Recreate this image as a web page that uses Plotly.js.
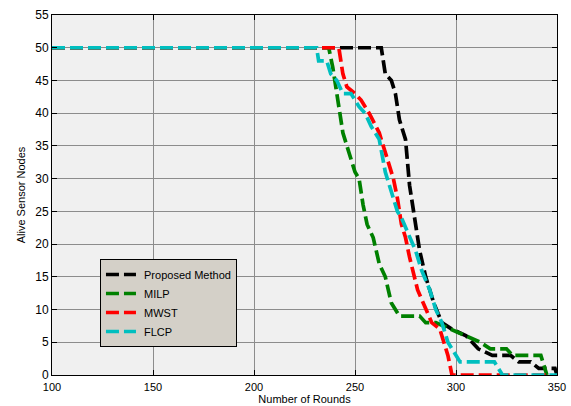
<!DOCTYPE html>
<html>
<head>
<meta charset="utf-8">
<script src="https://cdn.plot.ly/plotly-3.0.1.min.js"></script>
<style>html,body{margin:0;padding:0;background:#fff;}#chart{width:571px;height:406px;}</style>
</head>
<body>
<div id="chart"></div>
<script>
// Data
var seriesNames = ["Proposed Method", "MILP", "MWST", "FLCP"];

var proposedRounds = [100, 263, 265, 268, 270, 272, 275, 277, 279, 282, 285, 289, 293, 298, 305, 311, 318, 327, 331, 337, 341, 349, 350];
var proposedAlive  = [50, 50, 46, 45, 43, 39, 36, 29, 25, 19, 15, 11, 8, 7, 6, 4, 3, 3, 2, 2, 1, 1, 0];

var milpRounds = [100, 237, 239, 240, 242, 244, 247, 250, 252, 254, 256, 259, 262, 265, 268, 272, 282, 285, 290, 297, 305, 312, 317, 325, 328, 342, 345];
var milpAlive  = [50, 50, 47, 45, 41, 37, 34, 31, 30, 26, 23, 21, 17, 15, 11, 9, 9, 8, 8, 7, 6, 5, 4, 4, 3, 3, 0];

var mwstRounds = [100, 242, 244, 246, 250, 253, 257, 262, 266, 269, 271, 273, 275, 277, 281, 285, 288, 292, 294, 296, 298, 345];
var mwstAlive  = [50, 50, 46, 44, 43, 42, 40, 37, 33, 30, 27, 23, 21, 18, 13, 10, 8, 7, 5, 3, 0, 0];

var flcpRounds = [100, 231, 232, 236, 238, 241, 244, 248, 252, 255, 258, 262, 265, 268, 271, 273, 276, 280, 283, 287, 290, 293, 296, 300, 302, 319, 323, 350];
var flcpAlive  = [50, 50, 48, 48, 46, 45, 43, 43, 41, 40, 38, 36, 31, 28, 25, 24, 22, 19, 16, 13, 10, 8, 5, 3, 2, 2, 0, 0];

var xTicks = [100, 150, 200, 250, 300, 350];
var yTicks = [0, 5, 10, 15, 20, 25, 30, 35, 40, 45, 50, 55];

var colors = ["#000000", "#008000", "#ff0000", "#00bfbf"];
var xs = [proposedRounds, milpRounds, mwstRounds, flcpRounds];
var ys = [proposedAlive, milpAlive, mwstAlive, flcpAlive];

var traces = seriesNames.map(function(n, i) {
  return {
    x: xs[i], y: ys[i], name: "\u00a0" + n, type: "scatter", mode: "lines",
    line: {color: colors[i], width: 3.7, dash: "13px,5px"}
  };
});

var font = "Arial, 'Liberation Sans', sans-serif";
var layout = {
  width: 571, height: 406,
  margin: {l: 52, r: 14, t: 15, b: 31, pad: 0},
  paper_bgcolor: "#ffffff",
  plot_bgcolor: "#f0f0f0",
  font: {family: font, size: 11, color: "#000"},
  showlegend: true,
  legend: {
    x: 0.095, y: 0.2, xanchor: "left", yanchor: "middle",
    bgcolor: "#d4d0c8", bordercolor: "#000", borderwidth: 1,
    font: {family: font, size: 11, color: "#000"},
    itemwidth: 30, tracegroupgap: 0
  },
  xaxis: {
    range: [100, 350], tickvals: xTicks, ticktext: xTicks.map(String),
    showgrid: true, gridcolor: "#8c8c8c", gridwidth: 1,
    zeroline: false, showline: true, linecolor: "#000", linewidth: 1, mirror: "ticks",
    ticks: "inside", ticklen: 5, tickcolor: "#000", ticklabelstandoff: 2,
    tickfont: {family: font, size: 11, color: "#000"},
    title: {text: "Number of Rounds", font: {family: font, size: 11, color: "#000"}, standoff: 3},
    automargin: false
  },
  yaxis: {
    range: [0, 55], tickvals: yTicks, ticktext: yTicks.map(String),
    showgrid: true, gridcolor: "#8c8c8c", gridwidth: 1,
    zeroline: false, showline: true, linecolor: "#000", linewidth: 1, mirror: "ticks",
    ticks: "inside", ticklen: 5, tickcolor: "#000",
    tickfont: {family: font, size: 12, color: "#000"},
    title: {text: "Alive Sensor Nodes", font: {family: font, size: 11, color: "#000"}, standoff: 7},
    automargin: false
  }
};

Plotly.newPlot("chart", traces, layout, {displayModeBar: false, staticPlot: true});
</script>
</body>
</html>
